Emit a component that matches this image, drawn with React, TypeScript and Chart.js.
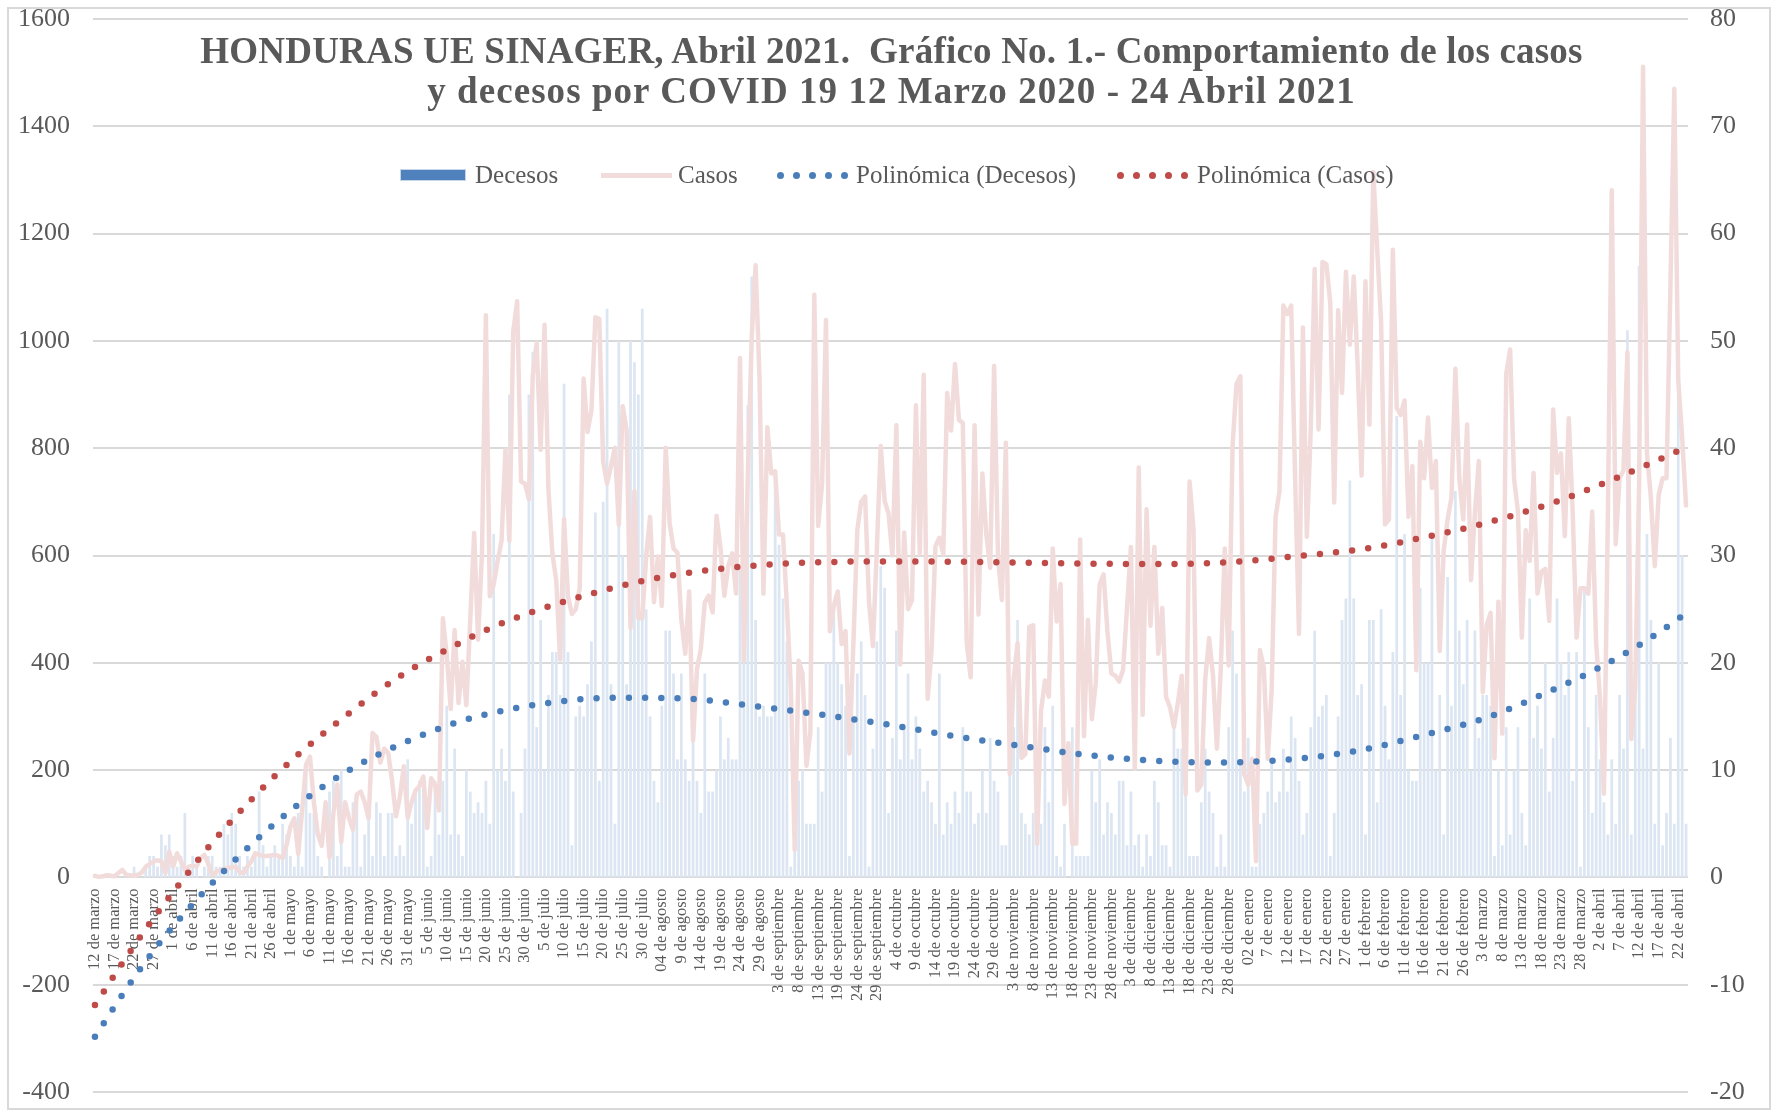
import React, { useEffect, useRef } from 'react';
import { Chart, registerables } from 'chart.js';

Chart.register(...registerables);

// ---------- categories (daily dates, 12 Mar 2020 – 24 Apr 2021; one September day is absent in the source) ----------
const monthNames = ['marzo', 'abril', 'mayo', 'junio', 'julio', 'agosto', 'septiembre', 'octubre', 'noviembre', 'diciembre', 'enero', 'febrero', 'marzo', 'abril'];
const monthLengths = [31, 30, 31, 30, 31, 31, 30, 31, 30, 31, 31, 28, 31, 30];
const firstDay = 12;
const lastDay = 24;
const missingDate = '16 de septiembre';
const labelOverrides: Record<string, string> = { '4 de agosto': '04 de agosto', '2 de enero': '02 de enero' };

const categories: string[] = [];
monthNames.forEach((m, mi) => {
  const from = mi === 0 ? firstDay : 1;
  const to = mi === monthNames.length - 1 ? lastDay : monthLengths[mi];
  for (let d = from; d <= to; d++) {
    const s = `${d} de ${m}`;
    if (s === missingDate) continue;
    categories.push(labelOverrides[s] ?? s);
  }
});

// ---------- series values ----------
const casos: number[] = [
  3, 1, 2, 4, 3, 2, 8, 14, 5, 4, 3, 5, 9, 20, 25, 30, 32, 30, 8, 48,
  20, 45, 30, 14, 20, 22, 20, 36, 42, 25, 5, 10, 14, 16, 17, 19, 20, 10, 8, 20,
  30, 45, 42, 40, 40, 41, 42, 40, 36, 60,
  95, 110, 44, 125, 210, 225, 140, 81, 59, 140, 37, 120, 173, 66, 140, 110, 89, 155, 160, 140,
  110, 269, 262, 214, 240, 232, 180, 114, 150, 207, 111, 140, 162, 170, 188, 92, 185, 173, 125, 483,
  413, 314, 461, 325, 402, 321, 480, 642, 443, 605, 1048,
  524, 546, 590, 627, 797, 627, 1018, 1074, 738, 734, 705, 937, 996, 797, 1030, 723, 605, 553, 406, 668,
  524, 491, 500, 539, 930, 830, 871, 1044, 1041, 775, 734, 767, 801, 657, 878, 834, 465, 720, 483, 483,
  598, 672, 513, 598, 506, 801, 660, 613, 605, 480, 417,
  533, 255, 388, 427, 513, 525, 494, 674, 615, 525, 580, 604, 529, 968, 404, 749, 1007, 1141, 929, 529,
  839, 753, 757, 639, 639, 506, 357, 51, 404, 380, 208, 270, 1086, 655, 733, 1039, 459, 506, 533, 435,
  459, 231, 435, 647, 700, 710, 514, 431, 611, 804, 702, 678,
  600, 843, 397, 643, 500, 517, 880, 603, 937, 333, 423, 617, 633, 603, 903, 833, 957, 853, 847, 437,
  373, 843, 490, 753, 640, 577, 953, 597, 517, 810, 193, 370, 437, 223, 230, 467, 470, 63, 310, 367,
  337, 613, 477, 547, 137, 250, 63, 63, 630, 263, 480,
  295, 362, 546, 565, 458, 380, 376, 365, 387, 502, 616, 203, 764, 303, 686, 469, 616, 417, 502, 336,
  317, 280, 325, 376, 155, 738, 649, 162, 173, 369, 446, 376, 240, 391, 613, 395, 804, 919, 934, 192,
  173, 221, 30, 424, 391, 221, 350, 672, 720, 1066, 1050,
  1066, 744, 454, 1025, 635, 835, 1134, 835, 1147, 1143, 1070, 699, 1057, 903, 1129, 993, 1120, 953, 749, 1111,
  844, 1315, 1170, 1034, 658, 667, 1170, 875, 862, 889, 672, 767, 386, 812, 744, 857, 726, 776, 422, 608,
  667, 708, 948, 744, 667, 844, 554, 681, 776, 345, 470,
  493, 222, 514, 268, 938, 984, 744, 682, 447, 647, 590, 754, 529, 570, 575, 478, 872, 754, 790, 636,
  856, 682, 447, 539, 539, 529, 682, 437, 334, 156, 672, 1281, 621, 744, 759, 979, 258, 355, 733, 1511,
  790, 708, 580, 713, 744, 744, 1102, 1470, 928, 820, 693,
];

const decesos: number[] = [
  0, 0, 0, 0, 0, 0, 0, 0, 0, 0, 1, 0, 0, 1, 2, 2, 1, 4, 3, 4,
  2, 1, 2, 6, 1, 2, 1, 0, 1, 2, 2, 1, 1, 5, 4, 6, 5, 2, 1, 2,
  1, 2, 8, 3, 1, 2, 3, 2, 5, 4,
  2, 1, 6, 1, 10, 6, 6, 2, 1, 0, 8, 9, 2, 10, 1, 1, 7, 7, 1, 4,
  6, 2, 7, 6, 2, 6, 6, 2, 3, 2, 11, 5, 8, 9, 9, 1, 2, 9, 4, 9,
  16, 4, 12, 4, 2, 10, 8, 6, 7, 6, 9,
  5, 32, 10, 12, 9, 45, 8, 0, 6, 12, 45, 49, 14, 24, 10, 17, 21, 21, 17, 46,
  21, 3, 15, 16, 15, 18, 22, 34, 9, 35, 53, 18, 5, 50, 30, 18, 50, 48, 45, 53,
  25, 15, 9, 7, 16, 23, 23, 19, 11, 19, 11,
  9, 13, 9, 6, 19, 8, 8, 10, 15, 11, 13, 11, 11, 29, 20, 44, 56, 24, 15, 16,
  15, 15, 38, 31, 26, 22, 1, 4, 9, 10, 5, 5, 5, 14, 8, 20, 20, 25, 20, 18,
  16, 2, 15, 19, 22, 17, 1, 12, 22, 29, 27, 6,
  13, 23, 11, 14, 19, 11, 15, 12, 8, 9, 7, 5, 19, 4, 7, 5, 8, 6, 14, 8,
  8, 5, 6, 10, 6, 13, 9, 8, 3, 3, 10, 14, 24, 6, 5, 4, 6, 10, 5, 14,
  7, 16, 2, 1, 5, 0, 14, 2, 2, 2, 2,
  10, 7, 11, 4, 7, 6, 4, 9, 9, 3, 8, 3, 4, 1, 4, 2, 9, 7, 3, 3,
  1, 14, 12, 12, 11, 2, 2, 2, 7, 12, 8, 6, 1, 4, 1, 14, 23, 19, 11, 8,
  13, 1, 1, 5, 6, 8, 11, 7, 8, 12, 8,
  15, 13, 9, 4, 6, 14, 23, 15, 16, 17, 2, 6, 15, 24, 26, 37, 26, 17, 18, 4,
  24, 24, 7, 25, 16, 11, 21, 43, 17, 32, 10, 9, 9, 27, 20, 20, 32, 10, 17, 4,
  28, 16, 36, 23, 18, 24, 10, 23, 13, 17, 17,
  16, 2, 10, 3, 14, 4, 10, 14, 6, 3, 26, 13, 16, 12, 20, 8, 13, 26, 20, 17,
  21, 9, 21, 1, 27, 14, 6, 17, 11, 7, 4, 11, 5, 17, 12, 51, 4, 20, 57, 12,
  32, 24, 5, 20, 3, 6, 13, 5, 46, 30, 5,
];

// polynomial trendlines as drawn in the picture, read at sample categories (index, value)
const trendDecesosIdx = [0, 8, 17, 27, 33, 41, 52, 65, 79, 93, 100, 119, 134, 149, 168, 183, 202, 221, 236, 254, 270, 285, 304, 323, 337, 356, 370, 384, 397, 407];
const trendDecesosVal = [-14.85, -10.4, -5.9, -1.7, 0.6, 3.4, 6.8, 10.0, 12.55, 14.5, 15.2, 16.4, 16.75, 16.7, 16.0, 15.3, 14.3, 13.1, 12.3, 11.4, 10.9, 10.7, 10.95, 11.8, 13.0, 14.9, 17.0, 19.4, 22.1, 24.6];
const trendCasosIdx = [0, 7, 14, 21, 29, 35, 40, 46, 52, 65, 78, 93, 100, 110, 120, 136, 151, 172, 189, 202, 226, 251, 276, 293, 305, 326, 342, 354, 374, 389, 405, 407];
const trendCasosVal = [-238, -160, -86, -18, 56, 106, 145, 189, 229, 306, 375, 436, 461, 490, 514, 546, 567, 583, 588, 589, 588, 585, 584, 589, 597, 614, 637, 657, 701, 744, 795, 802];

const leftTicks = { min: -400, max: 1600, step: 200 };
const rightTicks = { min: -20, max: 80, step: 10 };

const TITLE_1 = 'HONDURAS UE SINAGER, Abril 2021.  Gráfico No. 1.- Comportamiento de los casos';
const TITLE_2 = 'y decesos por COVID 19 12 Marzo 2020 - 24 Abril 2021';

const GREY = '#595959';
const BLUE = '#4a7ebb';
const RED = '#be4b48';
const PINK = '#f2dcdb';
const BAR = '#dce6f2';
const SERIF = '"Liberation Serif", "Times New Roman", serif';

function sparseSeries(idx: number[], vals: number[]): (number | null)[] {
  const out: (number | null)[] = categories.map(() => null);
  idx.forEach((i, k) => { out[i] = vals[k]; });
  return out;
}

function Dots({ left, color }: { left: number; color: string }) {
  return (
    <div style={{ position: 'absolute', left, top: 172, height: 7, width: 70 }}>
      {[0, 1, 2, 3, 4].map((k) => (
        <div key={k} style={{ position: 'absolute', left: k * 16, top: 0, width: 7, height: 7, borderRadius: '50%', background: color }} />
      ))}
    </div>
  );
}

const legendText: React.CSSProperties = {
  position: 'absolute', top: 160, height: 30, lineHeight: '30px', fontFamily: SERIF, fontSize: 25, color: GREY, whiteSpace: 'pre',
};

const zeroPad = (s: any) => { s.paddingTop = 0; s.paddingBottom = 0; };

export default function App() {
  const ref = useRef<HTMLCanvasElement>(null);

  useEffect(() => {
    const tickFont = { family: SERIF, size: 26 };
    const trendStyle = {
      type: 'line', borderWidth: 6.5, borderDash: [0, 16.2], borderCapStyle: 'round',
      pointRadius: 0, spanGaps: true, cubicInterpolationMode: 'monotone', fill: false, order: 0,
    };
    const chart = new Chart(ref.current as HTMLCanvasElement, {
      type: 'bar',
      data: {
        labels: categories,
        datasets: [
          { ...trendStyle, label: 'Polinómica (Decesos)', data: sparseSeries(trendDecesosIdx, trendDecesosVal), yAxisID: 'y1', borderColor: BLUE } as any,
          { ...trendStyle, label: 'Polinómica (Casos)', data: sparseSeries(trendCasosIdx, trendCasosVal), yAxisID: 'y', borderColor: RED } as any,
          {
            type: 'line', label: 'Casos', data: casos, yAxisID: 'y',
            borderColor: PINK, borderWidth: 4.5, borderJoinStyle: 'round', borderCapStyle: 'round',
            pointRadius: 0, tension: 0, fill: false, order: 1,
          } as any,
          {
            type: 'bar', label: 'Decesos', data: decesos, yAxisID: 'y1',
            backgroundColor: BAR, barPercentage: 0.7, categoryPercentage: 1, order: 2,
          } as any,
        ],
      },
      options: {
        responsive: true,
        maintainAspectRatio: false,
        animation: false,
        devicePixelRatio: 1,
        layout: { padding: { top: 19, bottom: 20, left: 0, right: 0 } },
        plugins: { legend: { display: false }, title: { display: false }, tooltip: { enabled: false } },
        scales: {
          x: {
            position: { y: 0 } as any,
            grid: { display: false, drawTicks: false },
            border: { display: false },
            ticks: {
              autoSkip: false, minRotation: 90, maxRotation: 90, padding: 11, color: GREY,
              font: { family: SERIF, size: 16.5 },
              callback: (_v: any, i: number) => (i % 5 === 0 ? categories[i] : ''),
            },
          },
          y: {
            position: 'left', min: leftTicks.min, max: leftTicks.max,
            ticks: { stepSize: leftTicks.step, padding: 23, color: GREY, font: tickFont, callback: (v: any) => String(v) },
            grid: { color: '#d9d9d9', lineWidth: 2, drawTicks: false },
            border: { display: false },
            afterFit: (s: any) => { s.width = 93; zeroPad(s); },
          },
          y1: {
            position: 'right', min: rightTicks.min, max: rightTicks.max,
            ticks: { stepSize: rightTicks.step, padding: 22, color: GREY, font: tickFont, callback: (v: any) => String(v) },
            grid: { display: false, drawTicks: false },
            border: { display: false },
            afterFit: (s: any) => { s.width = 85; zeroPad(s); },
          },
        },
      } as any,
    });
    return () => chart.destroy();
  }, []);

  return (
    <div style={{ position: 'fixed', left: 0, top: 0, width: 1773, height: 1112, background: '#fff', overflow: 'hidden' }}>
      <canvas ref={ref} style={{ position: 'absolute', left: 0, top: 0, width: 1773, height: 1112 }} />
      <div style={{ position: 'absolute', left: 7, top: 7, width: 1764, height: 1103, border: '2px solid #d9d9d9', boxSizing: 'border-box', pointerEvents: 'none' }} />
      <div style={{ position: 'absolute', left: 5, top: 31, width: 1773, textAlign: 'center', fontFamily: SERIF, fontWeight: 'bold', fontSize: 37, lineHeight: '40px', color: GREY, whiteSpace: 'pre' }}>
        <div style={{ letterSpacing: '0.2px' }}>{TITLE_1}</div>
        <div style={{ letterSpacing: '1.05px' }}>{TITLE_2}</div>
      </div>
      <div style={{ position: 'absolute', left: 400, top: 169, width: 66, height: 12, background: '#4f81bd', border: '1px solid #c6d5ea', boxSizing: 'border-box' }} />
      <div style={{ ...legendText, left: 475 }}>Decesos</div>
      <div style={{ position: 'absolute', left: 601, top: 173, width: 71, height: 5, background: PINK }} />
      <div style={{ ...legendText, left: 678 }}>Casos</div>
      <Dots left={777} color={BLUE} />
      <div style={{ ...legendText, left: 856 }}>Polinómica (Decesos)</div>
      <Dots left={1117} color={RED} />
      <div style={{ ...legendText, left: 1197 }}>Polinómica (Casos)</div>
    </div>
  );
}
